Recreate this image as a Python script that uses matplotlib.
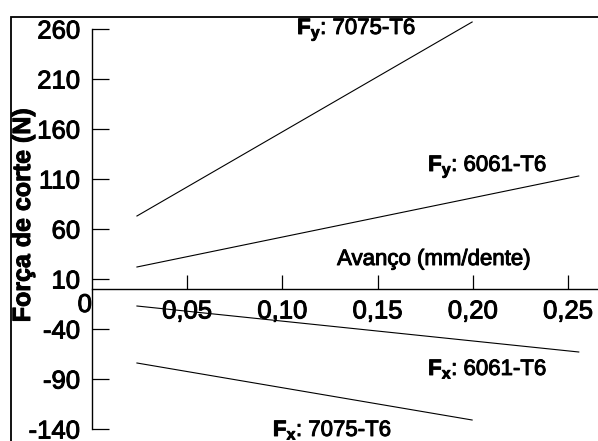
import matplotlib
matplotlib.use("Agg")
import matplotlib.pyplot as plt
import matplotlib.patheffects as pe
from matplotlib.patches import Rectangle

plt.rcParams['font.family'] = ['Liberation Sans', 'DejaVu Sans']
plt.rcParams['mathtext.fontset'] = 'custom'
plt.rcParams['mathtext.rm'] = 'Liberation Sans'
plt.rcParams['mathtext.bf'] = 'Liberation Sans:bold'
plt.rcParams['axes.unicode_minus'] = False

# Cutting-force trends versus feed (endpoints of each fitted line)
feed_7075 = [0.0236, 0.1996]
feed_6061 = [0.0236, 0.2556]
fy_7075 = [73, 267]
fy_6061 = [22, 113]
fx_6061 = [-17, -63]
fx_7075 = [-74, -131]

x_ticks = [0.05, 0.10, 0.15, 0.20, 0.25]
x_tick_labels = ['0,05', '0,10', '0,15', '0,20', '0,25']
y_ticks = [-140, -90, -40, 10, 60, 110, 160, 210, 260]

heavy = [pe.withStroke(linewidth=0.7, foreground='black')]

fig = plt.figure(figsize=(5.98, 4.41), dpi=100)
ax = fig.add_axes([92 / 598, 12 / 441, 1 - 92 / 598, 400 / 441])

line_kw = dict(color='black', lw=0.8, clip_on=False)
ax.plot(feed_7075, fy_7075, **line_kw)
ax.plot(feed_6061, fy_6061, **line_kw)
ax.plot(feed_6061, fx_6061, **line_kw)
ax.plot(feed_7075, fx_7075, **line_kw)

ax.set_xlim(0, 0.2657)
ax.set_ylim(-140, 260)

# Axis spines: vertical at x=0, horizontal at y=0
ax.spines['top'].set_visible(False)
ax.spines['right'].set_visible(False)
ax.spines['bottom'].set_position(('data', 0))
for s in ('left', 'bottom'):
    ax.spines[s].set_linewidth(1.0)

ax.set_xticks(x_ticks)
ax.set_xticklabels(x_tick_labels)
ax.set_yticks(y_ticks)
ax.tick_params(axis='x', direction='in', length=10, width=0.9,
               labelsize=18.5, pad=7.5)
ax.tick_params(axis='y', direction='in', length=12, width=0.9,
               labelsize=18.5, pad=8.5)
for lbl in ax.get_xticklabels() + ax.get_yticklabels():
    lbl.set_path_effects(heavy)

# Origin label
ax.text(0, -4, '0', ha='right', va='top', fontsize=18.5,
        transform=ax.transData, clip_on=False, path_effects=heavy)

fig.text(23 / 598, 1 - 215 / 441, 'Força de corte (N)', rotation=90,
         ha='center', va='center', fontsize=18, fontweight='bold',
         path_effects=heavy)

ax.text(0.1287, 24, 'Avanço (mm/dente)', fontsize=16, va='baseline',
        path_effects=heavy)

ann_kw = dict(fontsize=16, va='baseline', clip_on=False, path_effects=heavy)
ax.text(0.1077, 255, r'$\mathbf{F_y}$: 7075-T6', **ann_kw)
ax.text(0.1765, 118, r'$\mathbf{F_y}$: 6061-T6', **ann_kw)
ax.text(0.1765, -86, r'$\mathbf{F_x}$: 6061-T6', **ann_kw)
ax.text(0.0950, -147, r'$\mathbf{F_x}$: 7075-T6', **ann_kw)

# Outer frame around the figure
fig.patches.append(Rectangle((10.5 / 598, -0.1), 1.2, 1 - 16.7 / 441 + 0.1,
                             transform=fig.transFigure, fill=False,
                             edgecolor='black', lw=1.3))

fig.savefig('out.png', dpi=100)
